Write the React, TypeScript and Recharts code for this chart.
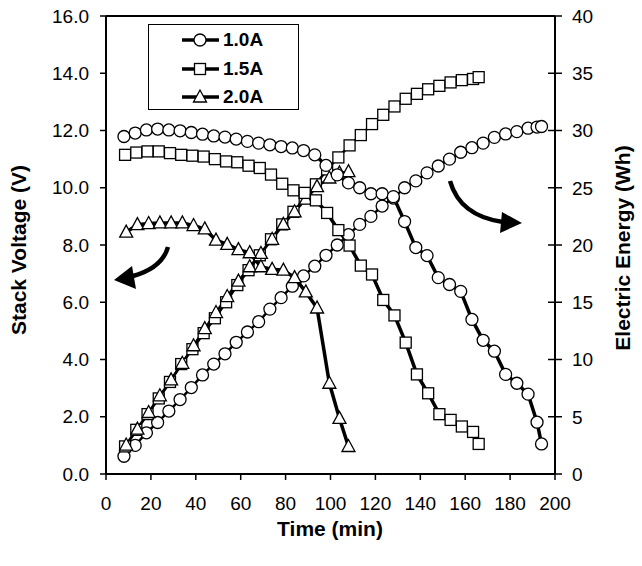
import React from 'react'
import { ComposedChart, Line, XAxis, YAxis, Legend, ReferenceLine } from 'recharts'

// 1.0 A run
const time10 = [8, 13, 18, 23, 28, 33, 38, 43, 48, 53, 58, 63, 68, 73, 78, 83, 88, 93, 98, 103, 108, 113, 118, 123, 128, 133, 138, 143, 148, 153, 158, 163, 168, 173, 178, 183, 188, 192, 194]
const volt10 = [11.79, 11.91, 12.02, 12.05, 12.02, 11.99, 11.93, 11.87, 11.81, 11.77, 11.7, 11.62, 11.56, 11.5, 11.44, 11.39, 11.3, 11.15, 10.78, 10.45, 10.17, 10.0, 9.79, 9.79, 9.69, 8.82, 7.91, 7.63, 6.86, 6.62, 6.38, 5.4, 4.67, 4.29, 3.48, 3.17, 2.79, 1.81, 1.05]
const energy10 = [1.55, 2.5, 3.6, 4.5, 5.5, 6.5, 7.55, 8.65, 9.6, 10.5, 11.5, 12.4, 13.3, 14.4, 15.4, 16.4, 17.3, 18.15, 19.1, 20.0, 20.9, 21.8, 22.5, 23.4, 24.1, 25.0, 25.6, 26.3, 26.9, 27.5, 28.1, 28.5, 28.9, 29.4, 29.7, 29.9, 30.2, 30.3, 30.35]

// 1.5 A run
const time15 = [8.5, 13.5, 18.5, 23.5, 28.5, 33.5, 38.5, 43.5, 48.5, 53.5, 58.5, 63.5, 68.5, 73.5, 78.5, 83.5, 88.5, 93.5, 98.5, 103.5, 108.5, 113.5, 118.5, 123.5, 128.5, 133.5, 138.5, 143.5, 148.5, 153.5, 158.5, 163.5, 166]
const volt15 = [11.15, 11.23, 11.27, 11.27, 11.21, 11.15, 11.12, 11.09, 11.0, 10.92, 10.89, 10.77, 10.69, 10.46, 10.14, 9.91, 9.82, 9.56, 9.12, 8.52, 7.98, 7.28, 6.97, 6.08, 5.54, 4.59, 3.48, 2.82, 2.09, 1.89, 1.66, 1.47, 1.05]
const energy15 = [2.41, 3.86, 5.23, 6.6, 8.04, 9.6, 10.9, 12.3, 13.6, 15.0, 16.5, 17.8, 19.1, 20.5, 21.8, 22.9, 24.1, 25.3, 26.6, 27.65, 28.7, 29.6, 30.56, 31.37, 32.1, 32.77, 33.2, 33.6, 33.9, 34.2, 34.4, 34.5, 34.66]

// 2.0 A run
const time20 = [9, 14, 19, 24, 29, 34, 39, 44, 49, 54, 59, 64, 69, 74, 79, 84, 89, 94, 99.5, 104, 108]
const volt20 = [8.45, 8.71, 8.75, 8.77, 8.77, 8.77, 8.68, 8.56, 8.17, 8.02, 7.84, 7.73, 7.24, 7.15, 7.12, 6.86, 6.36, 5.8, 3.17, 1.94, 0.96]
const energy20 = [2.53, 3.92, 5.37, 6.83, 8.22, 9.67, 11.2, 12.7, 14.1, 15.5, 16.85, 18.1, 19.26, 20.5, 21.8, 22.9, 24.0, 25.1, 25.85, 26.3, 26.4]

const timeTicks = [0, 20, 40, 60, 80, 100, 120, 140, 160, 180, 200]
const voltTicks = [0, 2, 4, 6, 8, 10, 12, 14, 16]
const energyTicks = [0, 5, 10, 15, 20, 25, 30, 35, 40]

const FONT = '"Liberation Sans", Arial, sans-serif'

const rows = (t: number[], y: number[]) => t.map((x, i) => ({ t: x, y: y[i] }))

const circleDot = (p: any) =>
  p.cx == null ? null : (
    <circle key={`c${p.index}`} cx={p.cx} cy={p.cy} r={6} fill="#fff" stroke="#000" strokeWidth={1.3} />
  )

const squareDot = (p: any) =>
  p.cx == null ? null : (
    <rect key={`s${p.index}`} x={p.cx - 5.5} y={p.cy - 5.5} width={11} height={11} fill="#fff" stroke="#000" strokeWidth={1.3} />
  )

const triangleDot = (p: any) =>
  p.cx == null ? null : (
    <polygon
      key={`t${p.index}`}
      points={`${p.cx},${p.cy - 7} ${p.cx - 6.5},${p.cy + 5} ${p.cx + 6.5},${p.cy + 5}`}
      fill="#fff"
      stroke="#000"
      strokeWidth={1.3}
    />
  )

const markerFor: Record<string, (p: any) => any> = {
  '1.0A': circleDot,
  '1.5A': squareDot,
  '2.0A': triangleDot,
}

const renderLegend = (props: any) => {
  const items = (props.payload || []).filter((e: any) => markerFor[e.value])
  return (
    <div style={{ border: '1px solid #000', width: 149, height: 84, background: '#fff', boxSizing: 'content-box' }}>
      {items.map((e: any, i: number) => (
        <div key={e.value} style={{ position: 'absolute', left: 33, top: 6 + i * 28.5, display: 'flex', alignItems: 'center' }}>
          <svg width={40} height={20}>
            <line x1={1} x2={38} y1={10} y2={10} stroke="#000" strokeWidth={3.5} />
            {markerFor[e.value]({ cx: 19, cy: 10, index: i })}
          </svg>
          <span style={{ fontFamily: FONT, fontWeight: 'bold', fontSize: 19, marginLeft: 2, lineHeight: '20px' }}>{e.value}</span>
        </div>
      ))}
    </div>
  )
}

const RightTick = (props: any) => {
  const { x, y, payload } = props
  return (
    <g>
      <line x1={x - 7} x2={x + 7} y1={y} y2={y} stroke="#000" strokeWidth={1.5} />
      <text x={x + 17} y={y} dy="0.36em" fontSize={19} fontFamily={FONT} fill="#000">
        {payload.value}
      </text>
    </g>
  )
}

export default function App() {
  return (
    <div style={{ position: 'absolute', left: 0, top: 0, width: 642, height: 566, background: '#fff' }}>
      <ComposedChart width={642} height={566} margin={{ top: 16, right: 0, bottom: 0, left: 0 }}>
        <XAxis
          type="number"
          dataKey="t"
          domain={[0, 200]}
          ticks={timeTicks}
          allowDuplicatedCategory={false}
          height={92}
          tickSize={6}
          tickMargin={17}
          stroke="#000"
          axisLine={{ stroke: '#000', strokeWidth: 2 }}
          tickLine={{ stroke: '#000', strokeWidth: 1.5 }}
          tick={{ fill: '#000', fontSize: 19, fontFamily: FONT }}
        />
        <YAxis
          yAxisId="v"
          domain={[0, 16]}
          ticks={voltTicks}
          width={106}
          tickSize={6}
          tickMargin={11}
          tickFormatter={(v: number) => v.toFixed(1)}
          axisLine={{ stroke: '#000', strokeWidth: 2 }}
          tickLine={{ stroke: '#000', strokeWidth: 1.5 }}
          tick={{ fill: '#000', fontSize: 19, fontFamily: FONT }}
        />
        <YAxis
          yAxisId="e"
          orientation="right"
          domain={[0, 40]}
          ticks={energyTicks}
          width={87}
          tickSize={0}
          tickMargin={0}
          tickLine={false}
          axisLine={{ stroke: '#000', strokeWidth: 2 }}
          tick={<RightTick />}
        />
        <ReferenceLine yAxisId="v" y={16} stroke="#000" strokeWidth={2} />
        <Legend content={renderLegend} layout="vertical" align="center" verticalAlign="middle" wrapperStyle={{ left: 148, top: 24, width: 151, height: 86 }} />

        <Line yAxisId="e" data={rows(time10, energy10)} dataKey="y" name="1.0A energy" legendType="none" stroke="#000" strokeWidth={2.5} dot={circleDot} isAnimationActive={false} />
        <Line yAxisId="e" data={rows(time15, energy15)} dataKey="y" name="1.5A energy" legendType="none" stroke="#000" strokeWidth={2.5} dot={squareDot} isAnimationActive={false} />
        <Line yAxisId="e" data={rows(time20, energy20)} dataKey="y" name="2.0A energy" legendType="none" stroke="#000" strokeWidth={2.5} dot={triangleDot} isAnimationActive={false} />

        <Line yAxisId="v" data={rows(time10, volt10)} dataKey="y" name="1.0A" stroke="#000" strokeWidth={3.5} dot={circleDot} isAnimationActive={false} />
        <Line yAxisId="v" data={rows(time15, volt15)} dataKey="y" name="1.5A" stroke="#000" strokeWidth={3.5} dot={squareDot} isAnimationActive={false} />
        <Line yAxisId="v" data={rows(time20, volt20)} dataKey="y" name="2.0A" stroke="#000" strokeWidth={3.5} dot={triangleDot} isAnimationActive={false} />
      </ComposedChart>

      <svg width={642} height={566} style={{ position: 'absolute', left: 0, top: 0, pointerEvents: 'none' }}>
        {/* arrow to the voltage axis */}
        <path d="M168,247 Q162,268 133,276" fill="none" stroke="#000" strokeWidth={4.5} />
        <polygon points="114,280 132,266 136,289" fill="#000" />
        {/* arrow to the energy axis */}
        <path d="M450,181 Q460,216 503,222" fill="none" stroke="#000" strokeWidth={4.5} />
        <polygon points="522,223 502,212 500,233" fill="#000" />

        <text x={18} y={250} transform="rotate(-90 18 250)" textAnchor="middle" dominantBaseline="central" fontFamily={FONT} fontWeight="bold" fontSize={21}>
          Stack Voltage (V)
        </text>
        <text x={622} y={248} transform="rotate(-90 622 248)" textAnchor="middle" dominantBaseline="central" fontFamily={FONT} fontWeight="bold" fontSize={21}>
          Electric Energy (Wh)
        </text>
        <text x={330} y={528} textAnchor="middle" dominantBaseline="central" fontFamily={FONT} fontWeight="bold" fontSize={21}>
          Time (min)
        </text>
      </svg>
    </div>
  )
}
